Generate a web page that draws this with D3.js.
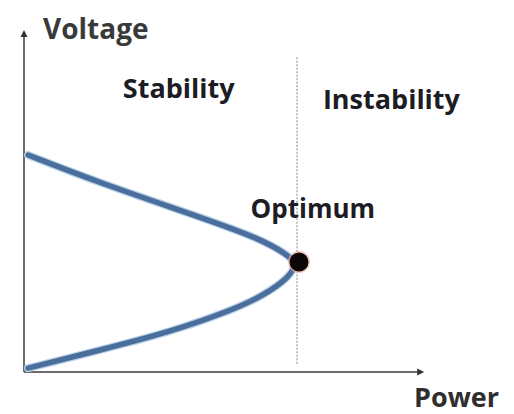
<!DOCTYPE html>
<html>
<head>
<meta charset="utf-8">
<script src="https://cdn.jsdelivr.net/npm/d3@7"></script>
<style>
  body { margin: 0; background: #fff; }
  text { font-family: "Open Sans", sans-serif; font-weight: bold; }
</style>
</head>
<body>
<div id="chart"></div>
<script>
// ----- data (normalised power / voltage) ----- //
const powerUpper   = [0.015, 0.278, 0.645, 0.87, 0.965, 1.0];
const voltageUpper = [1.0,   0.871, 0.714, 0.612, 0.540, 0.500];
const powerLower   = [0.97, 0.88, 0.766, 0.524, 0.278, 0.015];
const voltageLower = [0.435, 0.355, 0.286, 0.180, 0.101, 0.018];
const optimum = {power: 1.0, voltage: 0.507};
const labels = [
  {text: "Stability",   power: 0.362, voltage: 1.262, size: 27},
  {text: "Instability", power: 1.095, voltage: 1.212, size: 27},
  {text: "Optimum",     power: 0.83,  voltage: 0.710, size: 26}
];

let width = 514, height = 414;

let svg = d3.select('#chart').append('svg')
            .attr('width', width)
            .attr('height', height);

const x = d3.scaleLinear().domain([0, 1]).range([24, 297]);
const y = d3.scaleLinear().domain([0, 1]).range([372, 155]);

// axes with arrow heads
const axisColor = '#6b6b6b';
svg.append('line')
   .attr('x1', x(0)).attr('y1', y(0))
   .attr('x2', x(0)).attr('y2', y(1.55))
   .attr('stroke', axisColor).attr('stroke-width', 2);
svg.append('path')
   .attr('d', `M${x(0)},${y(1.576)} l-3.5,7 l7,0 z`)
   .attr('fill', '#333');
svg.append('line')
   .attr('x1', x(0)).attr('y1', y(0))
   .attr('x2', x(1.455)).attr('y2', y(0))
   .attr('stroke', axisColor).attr('stroke-width', 2);
svg.append('path')
   .attr('d', `M${x(1.466)},${y(0)} l-7,-3.5 l0,7 z`)
   .attr('fill', '#333');

// boundary stability / instability
svg.append('line')
   .attr('x1', x(1)).attr('y1', y(1.45))
   .attr('x2', x(1)).attr('y2', y(0.03))
   .attr('stroke', '#9a9a9a').attr('stroke-width', 1.2)
   .attr('stroke-dasharray', '2,1.5');

// PV nose curve
let points = powerUpper.map((p, i) => [p, voltageUpper[i]])
               .concat(powerLower.map((p, i) => [p, voltageLower[i]]));

const line = d3.line()
               .x(d => x(d[0]))
               .y(d => y(d[1]))
               .curve(d3.curveBasis);

svg.append('path')
   .datum(points)
   .attr('d', line)
   .attr('fill', 'none')
   .attr('stroke', '#bcd3ea')
   .attr('stroke-width', 8)
   .attr('stroke-linecap', 'round');
svg.append('path')
   .datum(points)
   .attr('d', line)
   .attr('fill', 'none')
   .attr('stroke', '#4b6f9c')
   .attr('stroke-width', 5.5)
   .attr('stroke-linecap', 'round');

// optimum point
svg.append('circle')
   .attr('cx', x(optimum.power) + 2)
   .attr('cy', y(optimum.voltage))
   .attr('r', 11)
   .attr('fill', '#f0b0a8')
   .attr('opacity', 0.7);
svg.append('circle')
   .attr('cx', x(optimum.power) + 2)
   .attr('cy', y(optimum.voltage))
   .attr('r', 9.5)
   .attr('fill', '#0d0606');

// texts
svg.append('text')
   .attr('x', 43).attr('y', 39)
   .style('font-size', '28px')
   .attr('fill', '#3a3a3a')
   .text('Voltage');

svg.append('text')
   .attr('x', 414).attr('y', 407)
   .style('font-size', '27px')
   .attr('fill', '#2e2e2e')
   .text('Power');

svg.selectAll('.lbl')
   .data(labels)
   .enter()
   .append('text')
   .attr('class', 'lbl')
   .attr('x', d => x(d.power))
   .attr('y', d => y(d.voltage))
   .style('font-size', d => d.size + 'px')
   .attr('fill', '#1c1c24')
   .text(d => d.text);
</script>
</body>
</html>
